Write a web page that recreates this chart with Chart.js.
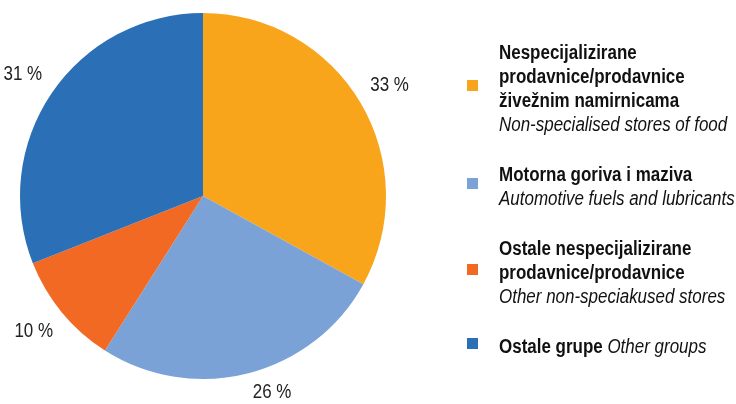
<!DOCTYPE html>
<html>
<head>
<meta charset="utf-8">
<script src="https://cdn.jsdelivr.net/npm/chart.js@4/dist/chart.umd.min.js"></script>
<style>
  html, body { margin: 0; padding: 0; background: #fff; }
  #wrap { position: relative; width: 736px; height: 404px; overflow: hidden; }
  #pie { position: absolute; left: 0; top: 0; }
  #legend {
    position: absolute; left: 467px; top: 40px; width: 269px;
    font-family: 'Liberation Sans', Arial, sans-serif;
    font-size: 19.5px; line-height: 24px; color: #111;
  }
  .item { position: relative; padding-left: 32px; margin-bottom: 26px; }
  .txt { display: inline-block; white-space: nowrap; transform: scaleX(0.87); transform-origin: 0 0; }
  .item b { font-weight: bold; }
  .item i { font-style: italic; }
  .box { position: absolute; left: 0; width: 11px; height: 11px; top: 50%; margin-top: -8px; }
</style>
</head>
<body>
<div id="wrap">
  <canvas id="pie" width="736" height="404"></canvas>
  <div id="legend"></div>
</div>
<script>
// podaci
const kategorije = [
  ['Nespecijalizirane<br>prodavnice/prodavnice<br>živežnim namirnicama', 'Non-specialised stores of food'],
  ['Motorna goriva i maziva', 'Automotive fuels and lubricants'],
  ['Ostale nespecijalizirane<br>prodavnice/prodavnice', 'Other non-speciakused stores'],
  ['Ostale grupe', 'Other groups']
];
const udjeli = [33, 26, 10, 31];
const boje = ['#F9A51B', '#7AA2D7', '#F26924', '#2B70B7'];

// legenda
const legend = document.getElementById('legend');
kategorije.forEach((k, i) => {
  const div = document.createElement('div');
  div.className = 'item';
  const sep = i === 3 ? ' ' : '<br>';
  div.innerHTML = '<span class="box" style="background:' + boje[i] + '"></span>' +
    '<span class="txt"><b>' + k[0] + '</b>' + sep + '<i>' + k[1] + '</i></span>';
  legend.appendChild(div);
});

// oznake postotaka izvan kruga (kao "outside end" u Excelu)
const pctLabels = {
  id: 'pctLabels',
  afterDatasetsDraw(chart) {
    const ctx = chart.ctx;
    const meta = chart.getDatasetMeta(0);
    ctx.font = "19.5px 'Liberation Sans', Arial, sans-serif";
    ctx.fillStyle = '#222';
    ctx.textAlign = 'center';
    ctx.textBaseline = 'middle';
    meta.data.forEach((arc, i) => {
      const p = arc.getProps(['x', 'y', 'startAngle', 'endAngle', 'outerRadius'], true);
      const mid = (p.startAngle + p.endAngle) / 2;
      const txt = udjeli[i] + ' %';
      const w = ctx.measureText(txt).width * 0.87;
      const h = 18;
      const r = p.outerRadius + 9;
      const cx = Math.cos(mid), cy = Math.sin(mid);
      let lx = p.x + cx * r + Math.sign(cx) * (w / 2 + 2);
      let ly = p.y + cy * r + Math.sign(cy) * (h / 2 + 4);
      ly = Math.min(Math.max(ly, 12), chart.height - 11);
      ctx.save();
      ctx.translate(lx, ly);
      ctx.scale(0.87, 1);
      ctx.fillText(txt, 0, 0);
      ctx.restore();
    });
  }
};

new Chart(document.getElementById('pie'), {
  type: 'pie',
  data: {
    labels: kategorije.map(k => k[1]),
    datasets: [{
      data: udjeli,
      backgroundColor: boje,
      borderWidth: 0,
      hoverOffset: 0
    }]
  },
  options: {
    responsive: false,
    animation: false,
    layout: { padding: { left: 20, top: 13, right: 350, bottom: 25 } },
    plugins: {
      legend: { display: false },
      tooltip: { enabled: false }
    }
  },
  plugins: [pctLabels]
});
</script>
</body>
</html>
